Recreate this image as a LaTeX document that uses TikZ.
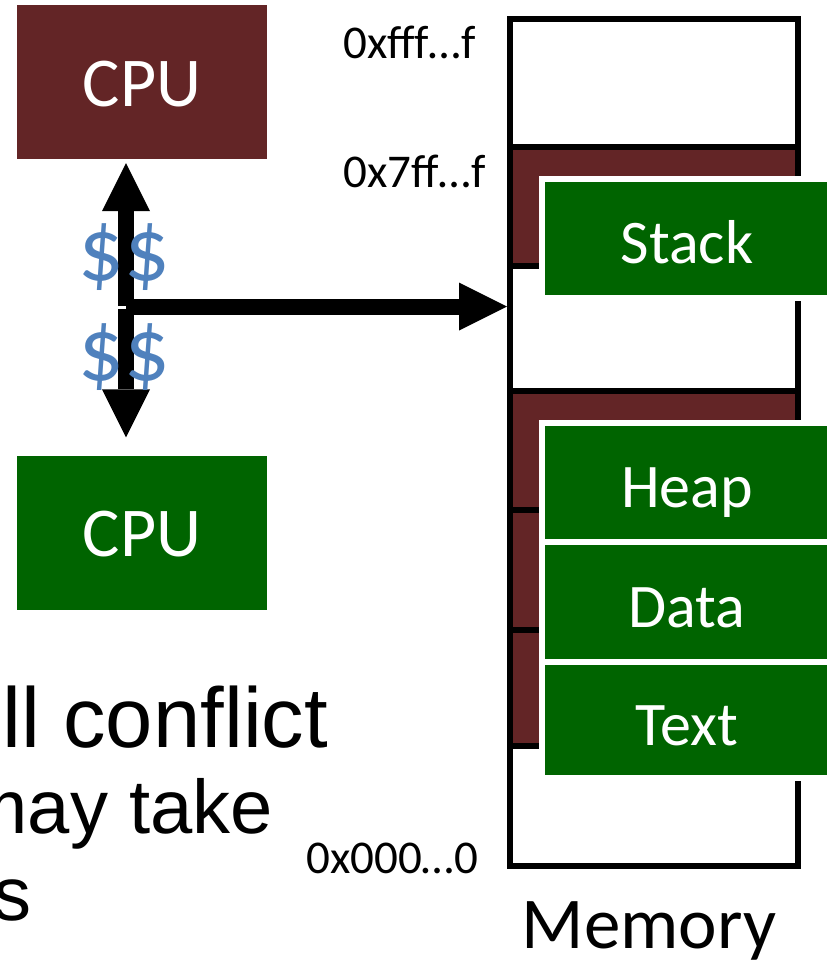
\documentclass[tikz,border=0pt]{standalone}
\usepackage{fontspec}
\setmainfont{Carlito}
\newfontfamily\arialfont{Liberation Sans}
\usetikzlibrary{arrows.meta}
\definecolor{maroon}{RGB}{99,37,38}
\definecolor{dkgreen}{RGB}{0,100,0}
\definecolor{dollarblue}{RGB}{79,129,189}
\tikzset{
  cpubox/.style={rectangle, inner sep=0pt, minimum width=250pt, minimum height=154pt,
    text=white, text height=48pt, text depth=0pt, font=\fontsize{70}{70}\selectfont},
  segbox/.style={rectangle, fill=dkgreen, draw=white, line width=6pt, inner sep=0pt,
    minimum width=290pt, text=white, text height=50pt, text depth=0pt,
    font=\fontsize{62}{62}\selectfont},
  memseg/.style={fill=maroon, draw=black, line width=6pt},
  bus/.style={line width=16pt, -{Triangle[width=48pt,length=48pt,line width=0pt]}},
  dollar/.style={inner sep=0pt, text=dollarblue, font=\fontsize{90}{90}\selectfont},
  addr/.style={inner sep=0pt, anchor=base west, font=\fontsize{47}{47}\selectfont},
  slidetext/.style={inner sep=0pt, font=\arialfont},
}
\begin{document}
\begin{tikzpicture}[x=1pt, y=-1pt]
  \useasboundingbox (0,0) rectangle (827,961);
  \clip (0,0) rectangle (827,961);

  % processors
  \node[cpubox, fill=maroon]  (cpu1) at (142,82)    {CPU};
  \node[cpubox, fill=dkgreen] (cpu2) at (142,532.5) {CPU};

  % memory column and its regions
  \node[draw=black, line width=6pt, inner sep=0pt, minimum width=288pt,
        minimum height=847.5pt] (mem) at (654,442.25) {};
  \draw[memseg] (510,147) rectangle (798,266);
  \draw[memseg] (510,391) rectangle (798,510);
  \draw[memseg] (510,510) rectangle (798,630);
  \draw[memseg] (510,630) rectangle (798,746);

  \node[segbox, minimum height=119pt] (stack) at (687,238.5) {Stack};
  \node[segbox, minimum height=119pt] (heap)  at (687,482.5) {Heap};
  \node[segbox, minimum height=120pt] (data)  at (687,602)   {Data};
  \node[segbox, minimum height=116pt] (text)  at (687,720)   {Text};

  % address labels
  \node[addr] (ahigh) at (343,58)  {0xfff…f};
  \node[addr] (astk)  at (343,187) {0x7ff…f};
  \node[addr] (alow)  at (306,873) {0x000…0};
  \node[inner sep=0pt, anchor=base, font=\fontsize{73}{73}\selectfont] (memlabel)
    at (649,948) {Memory};

  % bus between the processors and memory
  \coordinate (jup)  at (126,306);
  \coordinate (jdn)  at (126,309);
  \coordinate (jmem) at (126,306.5);
  \draw[bus, shorten >=4pt]  (jup) -- (jup |- cpu1.south);
  \draw[bus, shorten >=18pt] (jdn) -- (jdn |- cpu2.north);
  \draw[bus] (jmem) -- (jmem -| mem.west);

  % cache markers
  \node[dollar] (cache1) at (124,257) {\$\$};
  \node[dollar] (cache2) at (124,357) {\$\$};

  % slide text
  \node[slidetext, anchor=base west, font=\arialfont\fontsize{85}{85}\selectfont]
    (line1) at (2,747) {ll conflict};
  \node[slidetext, anchor=base east, font=\arialfont\fontsize{76}{76}\selectfont]
    (line2) at (273,833) {may take};
  \node[slidetext, anchor=base east, font=\arialfont\fontsize{76}{76}\selectfont]
    (line3) at (32,920) {s};
\end{tikzpicture}
\end{document}
